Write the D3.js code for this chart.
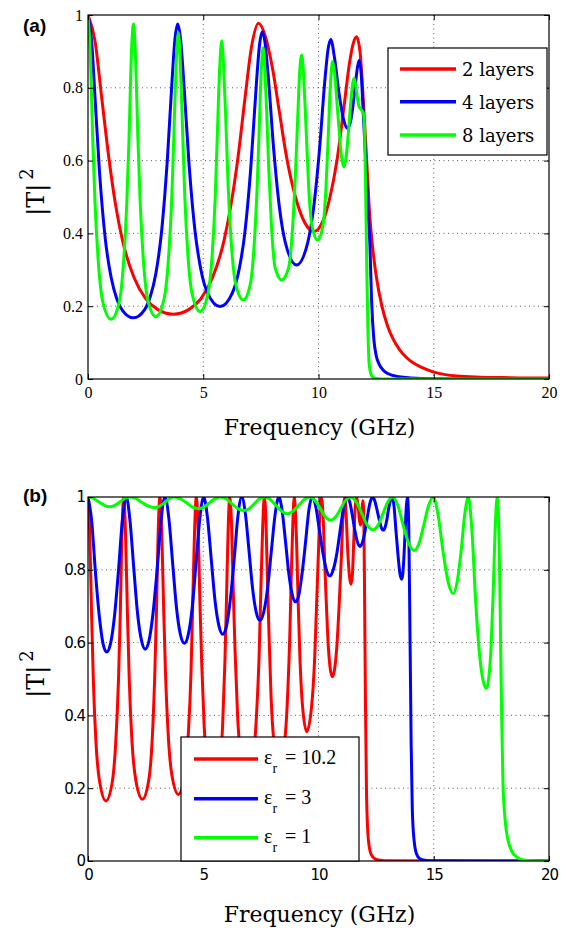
<!DOCTYPE html>
<html><head><meta charset="utf-8">
<script src="https://cdn.jsdelivr.net/npm/d3@7"></script>
<style>body{margin:0;background:#fff}svg{display:block}</style>
</head><body>
<svg id="c" width="566" height="928"></svg>
<script>
// ---------- data ----------
const xTicks = [0, 5, 10, 15, 20];
const yTicks = [0, 0.2, 0.4, 0.6, 0.8, 1];
const yTickLabels = ["0", "0.2", "0.4", "0.6", "0.8", "1"];
const legendA = ["2 layers", "4 layers", "8 layers"];
const legendB = ["10.2", "3", "1"];
const seriesColors = ["#ff0000", "#0000ff", "#00ff00"];

// panel (a): |T|^2 vs frequency (GHz)
const layers2 = [[0,1.0],[0.3,0.93],[0.6,0.77],[0.9,0.61],[1.2,0.477],[1.5,0.38],[2.0,0.278],[2.5,0.221],[3.0,0.192],[3.7,0.178],[4.4,0.192],[4.9,0.221],[5.4,0.278],[5.9,0.38],[6.2,0.477],[6.5,0.605],[6.8,0.765],[7.1,0.915],[7.4,0.977],[7.7,0.94],[8.0,0.855],[8.3,0.735],[8.6,0.615],[9.0,0.5],[9.4,0.43],[9.8,0.405],[10.2,0.435],[10.5,0.5],[10.8,0.6],[11.1,0.745],[11.35,0.87],[11.5,0.92],[11.65,0.94],[11.8,0.9],[11.95,0.76],[12.1,0.59],[12.2,0.47],[12.35,0.36],[12.5,0.285],[12.75,0.2],[13.0,0.145],[13.25,0.108],[13.5,0.082],[13.75,0.063],[14.0,0.049],[14.25,0.039],[14.5,0.031],[15.0,0.019],[15.5,0.012],[16,0.008],[17,0.005],[18,0.004],[19,0.003],[20,0.003]];
const layers4 = [[0,1],[0.15,0.933],[0.3,0.779],[0.5,0.568],[0.75,0.385],[1.0,0.28],[1.25,0.22],[1.5,0.188],[1.97,0.168],[2.45,0.19],[2.7,0.226],[2.95,0.292],[3.2,0.41],[3.45,0.61],[3.65,0.824],[3.77,0.932],[3.89,0.975],[4.02,0.931],[4.14,0.83],[4.39,0.585],[4.64,0.408],[4.89,0.303],[5.19,0.236],[5.73,0.199],[6.26,0.236],[6.56,0.302],[6.81,0.405],[7.06,0.578],[7.31,0.816],[7.44,0.917],[7.56,0.954],[7.68,0.924],[7.81,0.838],[8.06,0.628],[8.31,0.469],[8.56,0.375],[9.05,0.313],[9.53,0.374],[9.78,0.466],[10.03,0.621],[10.28,0.823],[10.41,0.904],[10.53,0.933],[10.7,0.88],[10.9,0.78],[11.1,0.71],[11.25,0.689],[11.4,0.71],[11.55,0.78],[11.7,0.86],[11.77,0.876],[11.85,0.84],[11.95,0.72],[12.05,0.6],[12.15,0.46],[12.23,0.37],[12.3,0.22],[12.4,0.11],[12.5,0.065],[12.65,0.038],[12.8,0.025],[13.0,0.015],[13.5,0.006],[14,0.003],[15,0.001],[20,0]];
const layers8 = [[0,1],[0.1,0.89],[0.2,0.67],[0.3,0.49],[0.45,0.32],[0.65,0.21],[1.0,0.164],[1.35,0.21],[1.53,0.31],[1.68,0.48],[1.78,0.66],[1.87,0.87],[1.97,0.975],[2.07,0.87],[2.16,0.67],[2.26,0.49],[2.41,0.32],[2.6,0.215],[2.94,0.171],[3.28,0.215],[3.48,0.32],[3.63,0.49],[3.72,0.66],[3.82,0.86],[3.92,0.952],[4.01,0.86],[4.11,0.67],[4.2,0.5],[4.34,0.335],[4.53,0.23],[4.86,0.185],[5.19,0.23],[5.38,0.335],[5.52,0.5],[5.61,0.67],[5.71,0.85],[5.8,0.929],[5.89,0.85],[5.99,0.69],[6.08,0.53],[6.22,0.37],[6.41,0.26],[6.74,0.217],[7.04,0.26],[7.21,0.37],[7.34,0.53],[7.43,0.69],[7.51,0.84],[7.6,0.91],[7.68,0.84],[7.76,0.72],[7.84,0.58],[7.96,0.42],[8.12,0.305],[8.4,0.272],[8.7,0.305],[8.88,0.42],[9.01,0.58],[9.1,0.72],[9.18,0.84],[9.27,0.89],[9.34,0.85],[9.41,0.76],[9.48,0.66],[9.58,0.52],[9.72,0.42],[9.96,0.382],[10.19,0.42],[10.32,0.52],[10.42,0.66],[10.48,0.76],[10.55,0.84],[10.61,0.872],[10.7,0.84],[10.8,0.76],[10.9,0.68],[11.0,0.61],[11.1,0.583],[11.2,0.61],[11.3,0.68],[11.4,0.76],[11.48,0.81],[11.55,0.826],[11.65,0.79],[11.75,0.75],[11.85,0.74],[11.95,0.73],[12.0,0.68],[12.05,0.5],[12.1,0.28],[12.15,0.12],[12.2,0.04],[12.3,0.01],[12.45,0.002],[12.7,0],[20,0]];

// panel (b): |T|^2 vs frequency (GHz) for three permittivities
const eps102 = [[0,1],[0.078,0.891],[0.156,0.677],[0.234,0.492],[0.35,0.322],[0.51,0.216],[0.78,0.165],[1.05,0.216],[1.2,0.322],[1.32,0.492],[1.4,0.677],[1.47,0.891],[1.55,1],[1.63,0.893],[1.71,0.682],[1.79,0.498],[1.91,0.327],[2.08,0.22],[2.36,0.17],[2.63,0.22],[2.78,0.327],[2.89,0.498],[2.97,0.682],[3.04,0.893],[3.12,1],[3.2,0.9],[3.28,0.7],[3.36,0.521],[3.48,0.347],[3.64,0.236],[3.92,0.183],[4.19,0.236],[4.35,0.347],[4.47,0.521],[4.54,0.7],[4.62,0.9],[4.7,1],[4.78,0.91],[4.85,0.724],[4.93,0.548],[5.04,0.372],[5.19,0.256],[5.45,0.2],[5.7,0.256],[5.84,0.372],[5.94,0.548],[6.01,0.724],[6.08,0.91],[6.15,1],[6.23,0.92],[6.3,0.747],[6.38,0.577],[6.49,0.4],[6.64,0.279],[6.9,0.22],[7.16,0.279],[7.31,0.4],[7.43,0.577],[7.5,0.747],[7.58,0.92],[7.65,1],[7.72,0.935],[7.78,0.786],[7.85,0.63],[7.94,0.454],[8.07,0.326],[8.3,0.26],[8.53,0.326],[8.66,0.454],[8.76,0.63],[8.82,0.786],[8.89,0.935],[8.95,1],[9.0,0.957],[9.06,0.852],[9.11,0.728],[9.19,0.566],[9.3,0.431],[9.49,0.355],[9.71,0.431],[9.84,0.566],[9.93,0.728],[10.0,0.852],[10.06,0.957],[10.12,1],[10.17,0.977],[10.22,0.915],[10.26,0.833],[10.34,0.708],[10.43,0.585],[10.6,0.506],[10.79,0.585],[10.9,0.708],[10.99,0.833],[11.04,0.915],[11.09,0.977],[11.14,1],[11.2,0.95],[11.27,0.85],[11.34,0.785],[11.41,0.76],[11.47,0.785],[11.53,0.88],[11.59,0.97],[11.65,1],[11.72,0.975],[11.78,0.935],[11.83,0.923],[11.88,0.95],[11.93,0.99],[11.97,0.93],[12.0,0.72],[12.04,0.42],[12.08,0.2],[12.13,0.09],[12.2,0.04],[12.3,0.016],[12.45,0.006],[12.7,0.002],[13,0.0005],[20,0]];
const eps3 = [[0,1],[0.16,0.934],[0.32,0.796],[0.49,0.673],[0.65,0.598],[0.81,0.574],[0.98,0.598],[1.15,0.673],[1.32,0.796],[1.49,0.934],[1.66,1],[1.82,0.936],[1.99,0.801],[2.15,0.68],[2.32,0.606],[2.48,0.582],[2.65,0.606],[2.82,0.68],[3.0,0.801],[3.17,0.936],[3.34,1],[3.51,0.94],[3.68,0.812],[3.84,0.695],[4.01,0.622],[4.18,0.598],[4.35,0.622],[4.52,0.695],[4.68,0.812],[4.85,0.94],[5.02,1],[5.18,0.945],[5.35,0.827],[5.51,0.716],[5.68,0.646],[5.84,0.623],[6.01,0.646],[6.17,0.716],[6.34,0.827],[6.5,0.945],[6.67,1],[6.83,0.953],[6.99,0.849],[7.14,0.749],[7.3,0.683],[7.46,0.661],[7.62,0.683],[7.79,0.749],[7.95,0.849],[8.12,0.953],[8.28,1],[8.42,0.963],[8.57,0.877],[8.71,0.791],[8.86,0.732],[9.0,0.712],[9.15,0.732],[9.29,0.791],[9.44,0.877],[9.58,0.963],[9.73,1],[9.88,0.974],[10.03,0.913],[10.19,0.847],[10.34,0.8],[10.49,0.783],[10.64,0.8],[10.8,0.847],[10.95,0.913],[11.1,0.974],[11.25,1],[11.36,0.985],[11.47,0.949],[11.58,0.907],[11.69,0.876],[11.8,0.864],[11.91,0.876],[12.02,0.907],[12.13,0.949],[12.24,0.985],[12.35,1],[12.44,0.99],[12.53,0.967],[12.63,0.939],[12.72,0.917],[12.81,0.909],[12.89,0.917],[12.97,0.939],[13.04,0.967],[13.12,0.99],[13.2,1],[13.28,0.973],[13.36,0.908],[13.45,0.84],[13.53,0.791],[13.61,0.774],[13.66,0.791],[13.71,0.84],[13.76,0.908],[13.81,0.973],[13.86,1],[13.92,0.9],[13.97,0.62],[14.02,0.32],[14.07,0.14],[14.15,0.055],[14.25,0.02],[14.4,0.006],[14.6,0.002],[15,0.0005],[20,0]];
const eps1 = [[0,1],[0.24,0.996],[0.48,0.986],[0.71,0.977],[0.95,0.973],[1.16,0.977],[1.38,0.986],[1.59,0.996],[1.8,1],[2.07,0.996],[2.35,0.985],[2.62,0.975],[2.9,0.971],[3.11,0.975],[3.33,0.985],[3.54,0.996],[3.75,1],[4.01,0.995],[4.28,0.984],[4.54,0.972],[4.8,0.968],[5.03,0.972],[5.27,0.984],[5.5,0.995],[5.73,1],[5.99,0.995],[6.25,0.981],[6.5,0.968],[6.76,0.963],[6.99,0.968],[7.21,0.981],[7.44,0.995],[7.66,1],[7.9,0.993],[8.15,0.977],[8.4,0.961],[8.65,0.954],[8.89,0.961],[9.14,0.977],[9.38,0.993],[9.62,1],[9.85,0.99],[10.08,0.968],[10.3,0.945],[10.53,0.936],[10.74,0.945],[10.96,0.968],[11.17,0.99],[11.38,1],[11.63,0.987],[11.88,0.955],[12.12,0.922],[12.37,0.91],[12.58,0.922],[12.8,0.955],[13.01,0.987],[13.22,1],[13.45,0.975],[13.68,0.921],[13.92,0.872],[14.15,0.853],[14.36,0.872],[14.56,0.921],[14.77,0.975],[14.97,1],[15.19,0.95],[15.41,0.847],[15.63,0.765],[15.85,0.735],[16.01,0.765],[16.18,0.847],[16.34,0.95],[16.5,1],[16.66,0.904],[16.81,0.722],[16.97,0.579],[17.13,0.499],[17.29,0.474],[17.38,0.499],[17.48,0.579],[17.57,0.722],[17.66,0.904],[17.75,1],[17.82,0.93],[17.88,0.7],[17.94,0.42],[18.0,0.22],[18.1,0.11],[18.22,0.058],[18.4,0.025],[18.58,0.012],[18.8,0.004],[19.2,0.001],[20,0]];

// ---------- drawing ----------
const svg = d3.select("#c");
const X0 = 88, X1 = 549;

function panel(cfg) {
  const x = d3.scaleLinear().domain([0, 20]).range([X0, X1]);
  const y = d3.scaleLinear().domain([0, 1]).range([cfg.bottom, cfg.top]);
  const g = svg.append("g");

  // grid
  g.selectAll(".gx").data(xTicks.slice(1, -1)).join("line")
    .attr("x1", d => x(d)).attr("x2", d => x(d))
    .attr("y1", cfg.top).attr("y2", cfg.bottom)
    .attr("stroke", "#333").attr("stroke-width", 0.8).attr("stroke-dasharray", "1,3.5");
  g.selectAll(".gy").data(yTicks.slice(1, -1)).join("line")
    .attr("x1", X0).attr("x2", X1)
    .attr("y1", d => y(d)).attr("y2", d => y(d))
    .attr("stroke", "#333").attr("stroke-width", 0.8).attr("stroke-dasharray", "1,3.5");

  // curves
  const clipId = "clip" + cfg.id;
  svg.append("clipPath").attr("id", clipId).append("rect")
    .attr("x", X0).attr("y", cfg.top).attr("width", X1 - X0).attr("height", cfg.bottom - cfg.top);
  const line = d3.line().x(d => x(d[0])).y(d => y(d[1])).curve(d3.curveMonotoneX);
  const cg = g.append("g").attr("clip-path", `url(#${clipId})`);
  cfg.series.forEach((s, i) => {
    cg.append("path").datum(s).attr("d", line)
      .attr("fill", "none").attr("stroke", seriesColors[i]).attr("stroke-width", 3)
      .attr("stroke-linejoin", "round");
  });

  // axes
  const styleAxis = (sel, font, size, spacing) => {
    sel.select(".domain").remove();
    sel.selectAll(".tick line").attr("stroke", "#000").attr("stroke-width", 1);
    sel.selectAll(".tick text").attr("font-family", font).attr("font-size", size)
      .attr("fill", "#000").attr("letter-spacing", spacing);
  };
  g.append("g").attr("transform", `translate(0,${cfg.bottom})`)
    .call(d3.axisBottom(x).tickValues(xTicks).tickFormat(d3.format("d")).tickSize(-5).tickSizeOuter(0).tickPadding(8))
    .call(s => styleAxis(s, cfg.tickFont, cfg.tickSize, cfg.tickSpacing));
  g.append("g").attr("transform", `translate(${X0},0)`)
    .call(d3.axisLeft(y).tickValues(yTicks).tickFormat((d, i) => yTickLabels[i]).tickSize(-5).tickSizeOuter(0).tickPadding(cfg.yPad))
    .call(s => styleAxis(s, cfg.tickFont, cfg.tickSize, cfg.tickSpacing));
  g.append("g").attr("transform", `translate(0,${cfg.top})`)
    .call(d3.axisTop(x).tickValues(xTicks).tickFormat("").tickSize(-5).tickSizeOuter(0))
    .call(s => styleAxis(s, cfg.tickFont, cfg.tickSize, 0));
  g.append("g").attr("transform", `translate(${X1},0)`)
    .call(d3.axisRight(y).tickValues(yTicks).tickFormat("").tickSize(-5).tickSizeOuter(0))
    .call(s => styleAxis(s, cfg.tickFont, cfg.tickSize, 0));

  // frame
  g.append("rect").attr("x", X0).attr("y", cfg.top).attr("width", X1 - X0).attr("height", cfg.bottom - cfg.top)
    .attr("fill", "none").attr("stroke", "#000").attr("stroke-width", 1.2);

  // axis titles
  g.append("text").attr("x", (X0 + X1) / 2 + 1).attr("y", cfg.xlabY)
    .attr("text-anchor", "middle").attr("font-family", "DejaVu Serif").attr("font-size", 22)
    .text("Frequency (GHz)");
  const yl = g.append("text")
    .attr("transform", `translate(44,${(cfg.top + cfg.bottom) / 2 - 5}) rotate(-90)`)
    .attr("text-anchor", "middle").attr("font-family", "DejaVu Serif").attr("font-size", 24);
  yl.append("tspan").text("|T|");
  yl.append("tspan").attr("dx", 4).attr("dy", -11).attr("font-size", 18).text("2");

  // panel tag
  g.append("text").attr("x", 23).attr("y", cfg.tagY)
    .attr("font-family", "Liberation Sans").attr("font-weight", "bold").attr("font-size", 19)
    .text(cfg.tag);

  return { x, y, g };
}

// panel (a)
const pa = panel({ id: "a", top: 15, bottom: 379, series: [layers2, layers4, layers8],
  tickFont: "Liberation Serif", tickSize: 16, tickSpacing: 0, yPad: 5, xlabY: 435, tag: "(a)", tagY: 32 });
{
  const lg = pa.g.append("g");
  lg.append("rect").attr("x", 388).attr("y", 48).attr("width", 159).attr("height", 107)
    .attr("fill", "#fff").attr("stroke", "#000").attr("stroke-width", 1.2);
  const rows = [69, 101.7, 135];
  legendA.forEach((t, i) => {
    lg.append("line").attr("x1", 400).attr("x2", 456).attr("y1", rows[i]).attr("y2", rows[i])
      .attr("stroke", seriesColors[i]).attr("stroke-width", 3.5);
    lg.append("text").attr("x", 462).attr("y", rows[i] + 7)
      .attr("font-family", "DejaVu Serif").attr("font-size", 18).text(t);
  });
}

// panel (b)
const pb = panel({ id: "b", top: 497, bottom: 861, series: [eps102, eps3, eps1],
  tickFont: "DejaVu Sans", tickSize: 15, tickSpacing: -1, yPad: 3, xlabY: 922, tag: "(b)", tagY: 502 });
{
  const lg = pb.g.append("g");
  lg.append("rect").attr("x", 181).attr("y", 737).attr("width", 178).attr("height", 124)
    .attr("fill", "#fff").attr("stroke", "#000").attr("stroke-width", 1.2);
  const rows = [759, 798.7, 837.7];
  legendB.forEach((t, i) => {
    lg.append("line").attr("x1", 194).attr("x2", 258).attr("y1", rows[i]).attr("y2", rows[i])
      .attr("stroke", seriesColors[i]).attr("stroke-width", 3.5);
    const tx = lg.append("text").attr("x", 264).attr("y", rows[i] + 5)
      .attr("font-family", "Liberation Serif").attr("font-size", 20);
    tx.append("tspan").text("ε");
    tx.append("tspan").attr("dy", 9).attr("font-size", 14).text("r");
    tx.append("tspan").attr("dy", -9).attr("dx", 3).text(" = " + t);
  });
}
</script>
</body></html>
